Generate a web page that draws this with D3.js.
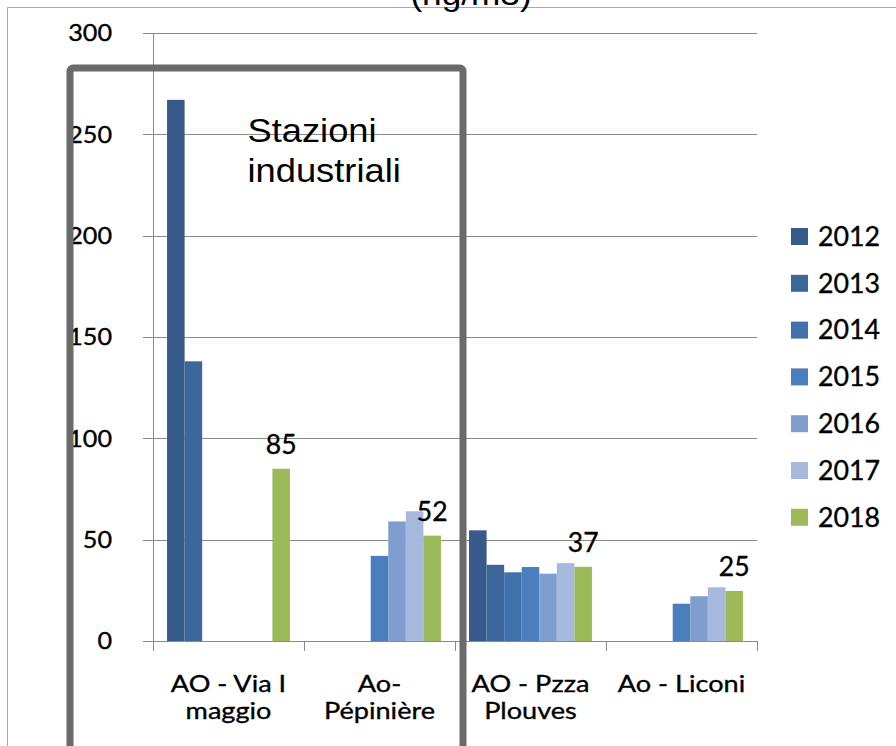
<!DOCTYPE html>
<html><head><meta charset="utf-8">
<script src="https://cdn.jsdelivr.net/npm/d3@7"></script>
<style>
html,body{margin:0;padding:0;background:#fff;overflow:hidden;}
svg{display:block;}
</style></head><body>
<svg id="c" width="896" height="746"></svg>
<script>
// ---- data ----
const categories = ["AO - Via I maggio", "Ao- Pépinière", "AO - Pzza Plouves", "Ao - Liconi"];
const categoryLines = [["AO - Via I", "maggio"], ["Ao-", "Pépinière"], ["AO - Pzza", "Plouves"], ["Ao - Liconi"]];
const years = ["2012", "2013", "2014", "2015", "2016", "2017", "2018"];
const v2012 = [267, null, 54.6, null];
const v2013 = [138, null, 37.6, null];
const v2014 = [null, null, 33.9, null];
const v2015 = [null, 42, 36.5, 18.4];
const v2016 = [null, 59, 33.2, 22.1];
const v2017 = [null, 64, 38.4, 26.5];
const v2018 = [85, 52, 36.6, 24.7];
const yTicks = [0, 50, 100, 150, 200, 250, 300];
const titleText = "(ng/m3)";
const boxLabel = ["Stazioni", "industriali"];
const yearColors = ["#355a8b", "#3b679b", "#4071ab", "#4b7ebc", "#7f9ecf", "#a7b9dd", "#9bbb59"];

const series = [v2012, v2013, v2014, v2015, v2016, v2017, v2018];

// ---- layout ----
const svg = d3.select("#c");
const plot = {left: 153, right: 757, top: 33, bottom: 641};
const y = d3.scaleLinear().domain([0, 300]).range([plot.bottom, plot.top]);
const x0 = d3.scaleBand().domain(categories).range([plot.left, plot.right]).paddingInner(0).paddingOuter(0);
const x1 = d3.scaleBand().domain(years).range([0, x0.bandwidth()]).paddingInner(0).paddingOuter(0.8);
const xb = d3.scaleLinear().domain([0, categories.length]).range([plot.left, plot.right]);
const color = d3.scaleOrdinal().domain(years).range(yearColors);
const axisColor = "#8a8a8a";
const calib = "Lato, 'Open Sans', sans-serif";
const arial = "'Liberation Sans', Arial, sans-serif";

function stext(g, x, yy, str, size, family, sx, anchor, heavy) {
  const t = g.append("text")
    .attr("transform", `translate(${x},${yy}) scale(${sx},1)`)
    .attr("text-anchor", anchor)
    .style("font-family", family)
    .style("font-size", size + "px")
    .attr("fill", "#000")
    .text(str);
  if (heavy) t.attr("stroke", "#000").attr("stroke-width", 0.35);
  return t;
}

// outer chart border
svg.append("rect").attr("x", 7.5).attr("y", 7.5).attr("width", 1200).attr("height", 1200)
  .attr("fill", "none").attr("stroke", "#a9a9a9").attr("stroke-width", 1);

// title (clipped at top, as in the reference)
stext(svg, 471, 5, titleText, 32, arial, 1.1, "middle", false);

// gridlines
const grid = svg.append("g").attr("transform", `translate(${plot.left},0)`)
  .call(d3.axisLeft(y).tickValues(yTicks).tickSize(-(plot.right - plot.left)).tickFormat(""));
grid.select(".domain").remove();
grid.selectAll("line").attr("stroke", axisColor).attr("shape-rendering", "crispEdges");

// bars
const barsG = svg.append("g");
series.forEach((vals, i) => {
  barsG.selectAll(null)
    .data(vals.map((v, j) => ({v, cat: categories[j]})).filter(d => d.v != null))
    .enter().append("rect")
    .attr("x", d => x0(d.cat) + x1(years[i]))
    .attr("width", x1.bandwidth())
    .attr("y", d => y(d.v))
    .attr("height", d => y(0) - y(d.v))
    .attr("fill", color(years[i]));
});

// y axis
const yAx = svg.append("g").attr("transform", `translate(${plot.left},0)`)
  .call(d3.axisLeft(y).tickValues(yTicks).tickSize(10).tickFormat(d3.format("d")));
yAx.select(".domain").attr("stroke", axisColor).attr("shape-rendering", "crispEdges");
yAx.selectAll("line").attr("stroke", axisColor).attr("shape-rendering", "crispEdges");
yAx.selectAll("text")
  .attr("x", 0).attr("dy", "0.35em")
  .attr("transform", "translate(-41,0) scale(1.12,1)")
  .attr("fill", "#000").attr("stroke", "#000").attr("stroke-width", 0.35)
  .style("font-family", calib).style("font-size", "22.5px");

// x axis (ticks at category boundaries)
const xAx = svg.append("g").attr("transform", `translate(0,${plot.bottom})`)
  .call(d3.axisBottom(xb).tickValues(d3.range(categories.length + 1)).tickSize(10).tickFormat(""));
xAx.select(".domain").attr("stroke", axisColor).attr("shape-rendering", "crispEdges");
xAx.selectAll("line").attr("stroke", axisColor).attr("shape-rendering", "crispEdges");

// category labels
const xl = svg.append("g");
categoryLines.forEach((lines, j) => {
  const cx = x0(categories[j]) + x0.bandwidth() / 2;
  lines.forEach((ln, k) => stext(xl, cx, 692 + k * 26.5, ln, 24, calib, 1.13, "middle", true));
});

// data labels on 2018
const dl = svg.append("g");
v2018.forEach((v, j) => {
  const cx = x0(categories[j]) + x1("2018") + x1.bandwidth() / 2;
  stext(dl, cx, y(v) - 14.5, d3.format(".0f")(v), 26, calib, 1.02, "middle", true);
});

// highlight box
svg.append("rect").attr("x", 70).attr("y", 68).attr("width", 393).attr("height", 682)
  .attr("rx", 3).attr("fill", "none").attr("stroke", "#6b6b6b").attr("stroke-width", 7);
boxLabel.forEach((t, k) => stext(svg, 247.5, 142 + k * 40, t, 33, arial, 1.1, "start", false));

// legend
const lg = svg.append("g");
years.forEach((yr, i) => {
  const cy = 236.5 + i * 46.8;
  lg.append("rect").attr("x", 791).attr("y", cy - 8.5).attr("width", 17).attr("height", 17).attr("fill", color(yr));
  stext(lg, 818, cy + 9.3, yr, 26, calib, 1.03, "start", true);
});
</script>
</body></html>
